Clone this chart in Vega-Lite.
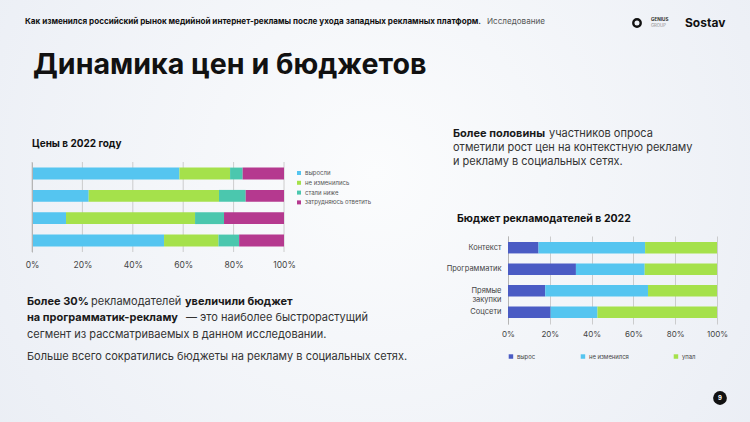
{
  "$schema": "https://vega.github.io/schema/vega-lite/v6.json",
  "padding": 0,
  "background": "#EEF1F6",
  "spacing": 224,
  "bounds": "flush",
  "config": {
    "view": {"stroke": null},
    "font": "Inter",
    "axis": {"labelFont": "Inter", "labelColor": "#444444", "titleFont": "Inter", "labelFlush": false},
    "legend": {"labelFont": "Inter"}
  },
  "resolve": {"scale": {"color": "independent", "x": "independent", "y": "independent"}, "legend": {"color": "independent"}},
  "hconcat": [
    {
      "width": 252,
      "height": 90,
      "layer": [
        {
          "data": {"values": [{}]},
          "mark": {"type": "rect", "x": -32, "x2": 718, "y": -162, "y2": 260,
            "fill": {"gradient": "radial", "x1": 0.5, "y1": 0.45, "x2": 0.5, "y2": 0.45, "r1": 0, "r2": 0.75,
              "stops": [{"offset": 0, "color": "#FBFCFD"}, {"offset": 1, "color": "#E7EBF3"}]}}
        },
        {
          "data": {"values": [{"tick": 0}, {"tick": 20}, {"tick": 40}, {"tick": 60}, {"tick": 80}, {"tick": 100}]},
          "mark": {"type": "rule", "stroke": "#C2C2C2", "strokeWidth": 0.8},
          "encoding": {"x": {"field": "tick", "type": "quantitative"}}
        },
        {
          "data": {"values": [
            {"group": "Контекст", "answer": "выросли", "k": 1, "share": 58.5},
            {"group": "Контекст", "answer": "не изменились", "k": 2, "share": 20.1},
            {"group": "Контекст", "answer": "стали ниже", "k": 3, "share": 5.0},
            {"group": "Контекст", "answer": "затрудняюсь ответить", "k": 4, "share": 16.4},
            {"group": "Программатик", "answer": "выросли", "k": 1, "share": 22.5},
            {"group": "Программатик", "answer": "не изменились", "k": 2, "share": 51.7},
            {"group": "Программатик", "answer": "стали ниже", "k": 3, "share": 10.6},
            {"group": "Программатик", "answer": "затрудняюсь ответить", "k": 4, "share": 15.2},
            {"group": "Прямые закупки", "answer": "выросли", "k": 1, "share": 13.5},
            {"group": "Прямые закупки", "answer": "не изменились", "k": 2, "share": 51.2},
            {"group": "Прямые закупки", "answer": "стали ниже", "k": 3, "share": 11.5},
            {"group": "Прямые закупки", "answer": "затрудняюсь ответить", "k": 4, "share": 23.8},
            {"group": "Соцсети", "answer": "выросли", "k": 1, "share": 52.4},
            {"group": "Соцсети", "answer": "не изменились", "k": 2, "share": 21.6},
            {"group": "Соцсети", "answer": "стали ниже", "k": 3, "share": 8.2},
            {"group": "Соцсети", "answer": "затрудняюсь ответить", "k": 4, "share": 17.8}
          ]},
          "mark": {"type": "bar"},
          "encoding": {
            "y": {"field": "group", "type": "nominal", "sort": null,
              "scale": {"paddingInner": 0.47, "paddingOuter": 0.25},
              "axis": {"labels": false, "ticks": false, "title": null, "domain": true, "domainColor": "#B5B5B5", "domainWidth": 1, "zindex": 1}},
            "x": {"field": "share", "type": "quantitative", "stack": "zero",
              "scale": {"domain": [0, 100], "nice": false},
              "axis": {"values": [0, 20, 40, 60, 80, 100], "labelExpr": "datum.value + '%'", "grid": false, "zindex": 1, "labelFlush": false,
                "domain": false, "ticks": false, "title": null, "labelFontSize": 8.5, "labelPadding": 8, "labelColor": "#444444"}},
            "color": {"field": "answer", "type": "nominal",
              "scale": {"domain": ["выросли", "не изменились", "стали ниже", "затрудняюсь ответить"],
                "range": ["#55C5F0", "#A5E14B", "#4BC7AE", "#B5398F"]},
              "legend": {"title": null, "orient": "none", "legendX": 264, "legendY": 8, "padding": 0,
                "symbolType": "square", "symbolSize": 16, "symbolStrokeWidth": 0, "labelFontSize": 6.0,
                "labelColor": "#555555", "labelOffset": 3, "rowPadding": 3.8}},
            "order": {"field": "k", "type": "quantitative"}
          }
        },
        {"data": {"values": [{}]}, "mark": {"type": "text", "text": "Цены в 2022 году", "x": 0, "y": -18, "align": "left", "baseline": "middle", "font": "Inter", "fontSize": 10, "fontWeight": "bold", "fill": "#111111"}},
        {"data": {"values": [{}]}, "mark": {"type": "text", "text": "Как изменился российский рынок медийной интернет-рекламы после ухода западных рекламных платформ.", "x": -7, "y": -140, "align": "left", "baseline": "middle", "font": "Inter", "fontSize": 8.1, "fontWeight": "bold", "fill": "#111111"}},
        {"data": {"values": [{}]}, "mark": {"type": "text", "text": "Исследование", "x": 513, "y": -140, "align": "right", "baseline": "middle", "font": "Inter", "fontSize": 8.1, "fill": "#555555"}},
        {"data": {"values": [{}]}, "mark": {"type": "rule", "x": -7, "x2": 693, "y": -128, "y2": -128, "stroke": "#3A3A3A", "strokeWidth": 1}, "encoding": {}},
        {"data": {"values": [{}]}, "mark": {"type": "point", "shape": "circle", "x": 605, "y": -139, "size": 55, "filled": false, "stroke": "#111111", "strokeWidth": 2.4, "opacity": 1}},
        {"data": {"values": [{}]}, "mark": {"type": "text", "text": "GENIUS", "x": 619, "y": -142, "align": "left", "baseline": "middle", "font": "Inter", "fontSize": 4.6, "fontWeight": "bold", "fill": "#333333"}},
        {"data": {"values": [{}]}, "mark": {"type": "text", "text": "GROUP", "x": 619, "y": -136.5, "align": "left", "baseline": "middle", "font": "Inter", "fontSize": 4.2, "fill": "#888888"}},
        {"data": {"values": [{}]}, "mark": {"type": "text", "text": "Sostav", "x": 653, "y": -139, "align": "left", "baseline": "middle", "font": "Inter", "fontSize": 12, "fontWeight": "bold", "fill": "#111111"}},
        {"data": {"values": [{}]}, "mark": {"type": "text", "text": "Динамика цен и бюджетов", "x": 1, "y": -97, "align": "left", "baseline": "middle", "font": "Inter", "fontSize": 28.6, "fontWeight": "bold", "fill": "#111111"}},
        {"data": {"values": [{}]}, "mark": {"type": "text", "text": "Более 30%", "x": -5, "y": 139.7, "align": "left", "baseline": "middle", "font": "Inter", "fontSize": 11, "fontWeight": "bold", "fill": "#1A1A1A"}},
        {"data": {"values": [{}]}, "mark": {"type": "text", "text": "рекламодателей", "x": 59, "y": 139.7, "align": "left", "baseline": "middle", "font": "Inter", "fontSize": 11, "fill": "#333333"}},
        {"data": {"values": [{}]}, "mark": {"type": "text", "text": "увеличили бюджет", "x": 153, "y": 139.7, "align": "left", "baseline": "middle", "font": "Inter", "fontSize": 11, "fontWeight": "bold", "fill": "#1A1A1A"}},
        {"data": {"values": [{}]}, "mark": {"type": "text", "text": "на программатик-рекламу", "x": -5, "y": 156, "align": "left", "baseline": "middle", "font": "Inter", "fontSize": 11, "fontWeight": "bold", "fill": "#1A1A1A"}},
        {"data": {"values": [{}]}, "mark": {"type": "text", "text": "— это наиболее быстрорастущий", "x": 154, "y": 156, "align": "left", "baseline": "middle", "font": "Inter", "fontSize": 11, "fill": "#333333"}},
        {"data": {"values": [{}]}, "mark": {"type": "text", "text": "сегмент из рассматриваемых в данном исследовании.", "x": -5, "y": 173, "align": "left", "baseline": "middle", "font": "Inter", "fontSize": 11, "fill": "#333333"}},
        {"data": {"values": [{}]}, "mark": {"type": "text", "text": "Больше всего сократились бюджеты на рекламу в социальных сетях.", "x": -5, "y": 195, "align": "left", "baseline": "middle", "font": "Inter", "fontSize": 11, "fill": "#333333"}},
        {"data": {"values": [{}]}, "mark": {"type": "rule", "x": 393, "x2": 393, "y": -37, "y2": 208, "stroke": "#3A3A3A", "strokeWidth": 1.2}, "encoding": {}},
        {"data": {"values": [{}]}, "mark": {"type": "text", "text": "Более половины", "x": 421, "y": -28, "align": "left", "baseline": "middle", "font": "Inter", "fontSize": 11, "fontWeight": "bold", "fill": "#1A1A1A"}},
        {"data": {"values": [{}]}, "mark": {"type": "text", "text": "участников опроса", "x": 517, "y": -28, "align": "left", "baseline": "middle", "font": "Inter", "fontSize": 11, "fill": "#333333"}},
        {"data": {"values": [{}]}, "mark": {"type": "text", "text": "отметили рост цен на контекстную рекламу", "x": 421, "y": -14, "align": "left", "baseline": "middle", "font": "Inter", "fontSize": 11, "fill": "#333333"}},
        {"data": {"values": [{}]}, "mark": {"type": "text", "text": "и рекламу в социальных сетях.", "x": 421, "y": 0, "align": "left", "baseline": "middle", "font": "Inter", "fontSize": 11, "fill": "#333333"}},
        {"data": {"values": [{}]}, "mark": {"type": "point", "shape": "circle", "x": 688, "y": 236, "size": 190, "filled": true, "fill": "#111111", "opacity": 1, "strokeWidth": 0}},
        {"data": {"values": [{}]}, "mark": {"type": "text", "text": "9", "x": 688, "y": 236, "align": "center", "baseline": "middle", "font": "Inter", "fontSize": 6, "fontWeight": "bold", "fill": "#FFFFFF"}}
      ]
    },
    {
      "spacing": 0,
      "bounds": "flush",
      "resolve": {"scale": {"color": "independent", "x": "independent", "y": "independent"}, "legend": {"color": "independent"}},
      "vconcat": [
        {"width": 209, "height": 74, "data": {"values": []}, "mark": "point"},
        {
          "width": 209,
          "height": 88,
          "title": {"text": "Бюджет рекламодателей в 2022", "anchor": "start", "frame": "group", "dx": -51, "offset": 12, "fontSize": 10.5, "font": "Inter", "fontWeight": "bold", "color": "#111111"},
          "data": {"values": [
            {"channel": "Контекст", "budget": "вырос", "k": 1, "pct": 14.6},
            {"channel": "Контекст", "budget": "не изменился", "k": 2, "pct": 51.0},
            {"channel": "Контекст", "budget": "упал", "k": 3, "pct": 34.4},
            {"channel": "Программатик", "budget": "вырос", "k": 1, "pct": 32.5},
            {"channel": "Программатик", "budget": "не изменился", "k": 2, "pct": 32.9},
            {"channel": "Программатик", "budget": "упал", "k": 3, "pct": 34.6},
            {"channel": "Прямые закупки", "budget": "вырос", "k": 1, "pct": 17.8},
            {"channel": "Прямые закупки", "budget": "не изменился", "k": 2, "pct": 49.2},
            {"channel": "Прямые закупки", "budget": "упал", "k": 3, "pct": 33.0},
            {"channel": "Соцсети", "budget": "вырос", "k": 1, "pct": 20.4},
            {"channel": "Соцсети", "budget": "не изменился", "k": 2, "pct": 22.4},
            {"channel": "Соцсети", "budget": "упал", "k": 3, "pct": 57.2}
          ]},
          "mark": {"type": "bar"},
          "encoding": {
            "y": {"field": "channel", "type": "nominal", "sort": null,
              "scale": {"paddingInner": 0.47, "paddingOuter": 0.28},
              "axis": {"labelExpr": "split(datum.label, ' ')", "ticks": false, "title": null, "domain": true, "domainColor": "#B5B5B5",
                "labelFontSize": 7.5, "labelPadding": 7, "labelColor": "#444444", "labelLineHeight": 9}},
            "x": {"field": "pct", "type": "quantitative", "stack": "zero",
              "scale": {"domain": [0, 100], "nice": false},
              "axis": {"values": [0, 20, 40, 60, 80, 100], "labelExpr": "datum.value + '%'", "grid": true, "gridColor": "#C2C2C2", "gridWidth": 0.8, "labelFlush": false,
                "domain": false, "ticks": false, "title": null, "labelFontSize": 8, "labelPadding": 6, "labelColor": "#444444"}},
            "color": {"field": "budget", "type": "nominal",
              "scale": {"domain": ["вырос", "не изменился", "упал"], "range": ["#4A5BC4", "#55C5F0", "#A5E14B"]},
              "legend": {"title": null, "orient": "none", "legendX": 0, "legendY": 117.5, "padding": 0, "direction": "horizontal",
                "symbolType": "square", "symbolSize": 20, "symbolStrokeWidth": 0, "labelFontSize": 5.9, "labelColor": "#444444",
                "labelOffset": 3, "columnPadding": 44}},
            "order": {"field": "k", "type": "quantitative"}
          }
        }
      ]
    }
  ]
}
